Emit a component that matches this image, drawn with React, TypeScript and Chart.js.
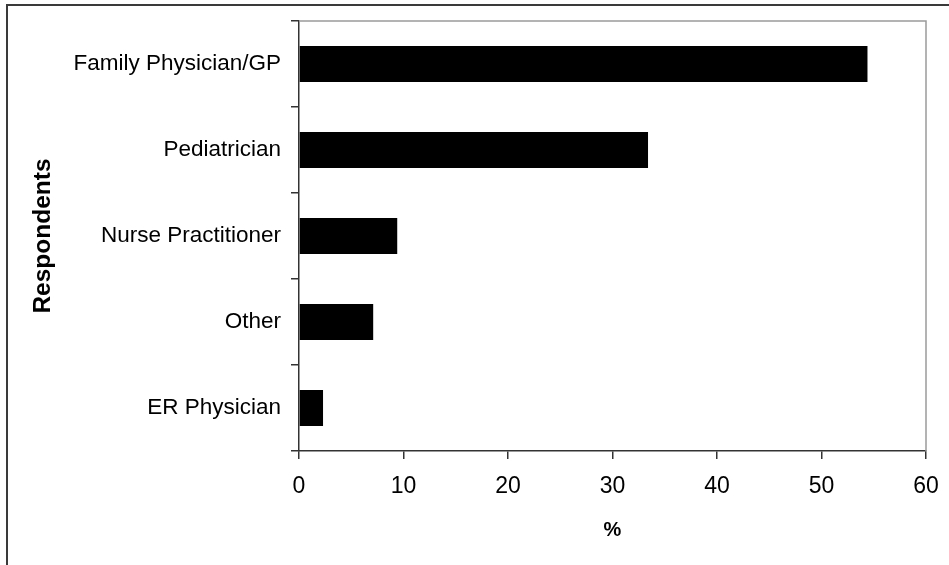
import React, { useEffect, useRef } from "react";
import { Chart, registerables } from "chart.js";

Chart.register(...registerables);

const categories = ["Family Physician/GP", "Pediatrician", "Nurse Practitioner", "Other", "ER Physician"];
const percentValues = [54.4, 33.4, 9.4, 7.1, 2.3];
const xTickMin = 0;
const xTickMax = 60;
const xTickStep = 10;
const xTitle = "%";
const yTitle = "Respondents";

const FONT = "'Liberation Sans', Arial, sans-serif";

const plotFrame = {
  id: "plotFrame",
  afterDraw(chart: any) {
    const { ctx, chartArea } = chart;
    ctx.save();
    ctx.strokeStyle = "#9a9a9a";
    ctx.lineWidth = 1.5;
    ctx.beginPath();
    ctx.moveTo(chartArea.left, chartArea.top);
    ctx.lineTo(chartArea.right, chartArea.top);
    ctx.lineTo(chartArea.right, chartArea.bottom);
    ctx.stroke();
    ctx.restore();
  },
};

export default function App() {
  const ref = useRef<HTMLCanvasElement | null>(null);
  useEffect(() => {
    if (!ref.current) return;
    const chart = new Chart(ref.current, {
      type: "bar",
      data: {
        labels: categories,
        datasets: [
          {
            data: percentValues,
            backgroundColor: "#000000",
            borderColor: "#000000",
            borderWidth: 0,
            barPercentage: 0.42,
            categoryPercentage: 1,
          },
        ],
      },
      plugins: [plotFrame],
      options: {
        indexAxis: "y",
        animation: false,
        responsive: false,
        maintainAspectRatio: false,
        layout: { padding: { left: 0, top: 21, right: 23, bottom: 0 } },
        plugins: {
          legend: { display: false },
          tooltip: { enabled: false },
        },
        scales: {
          x: {
            type: "linear",
            min: xTickMin,
            max: xTickMax,
            ticks: {
              stepSize: xTickStep,
              color: "#000",
              font: { family: FONT, size: 23 },
              padding: 14,
            },
            grid: {
              display: true,
              drawOnChartArea: false,
              drawTicks: true,
              tickLength: 8,
              color: "#333",
              lineWidth: 1.5,
            },
            border: { display: true, color: "#333", width: 1.5 },
            title: {
              display: true,
              text: xTitle,
              color: "#000",
              font: { family: FONT, size: 20, weight: "bold" },
              padding: { top: 0, bottom: 23 },
            },
            afterFit(scale: any) {
              scale.height = 114;
              scale.paddingLeft = 0;
              scale.paddingRight = 0;
            },
          },
          y: {
            type: "category",
            offset: true,
            ticks: {
              color: "#000",
              font: { family: FONT, size: 22.5 },
              padding: 10,
            },
            grid: {
              display: true,
              offset: true,
              drawOnChartArea: false,
              drawTicks: true,
              tickLength: 8,
              color: "#333",
              lineWidth: 1.5,
            },
            border: { display: true, color: "#333", width: 1.5 },
            title: {
              display: true,
              text: yTitle,
              color: "#000",
              font: { family: FONT, size: 24.5, weight: "bold" },
              padding: { top: 29, bottom: 0 },
            },
            afterFit(scale: any) {
              scale.width = 299;
              scale.paddingTop = 0;
              scale.paddingBottom = 0;
            },
          },
        },
      },
    });
    return () => chart.destroy();
  }, []);

  return (
    <div
      style={{
        position: "fixed",
        left: 0,
        top: 0,
        width: 949,
        height: 565,
        overflow: "hidden",
        background: "#fff",
      }}
    >
      <canvas ref={ref} width={949} height={565} style={{ position: "absolute", left: 0, top: 0, width: 949, height: 565 }} />
      <div
        style={{
          position: "absolute",
          left: 6,
          top: 4,
          width: 1000,
          height: 700,
          border: "2px solid #3a3a3a",
          pointerEvents: "none",
        }}
      />
    </div>
  );
}
